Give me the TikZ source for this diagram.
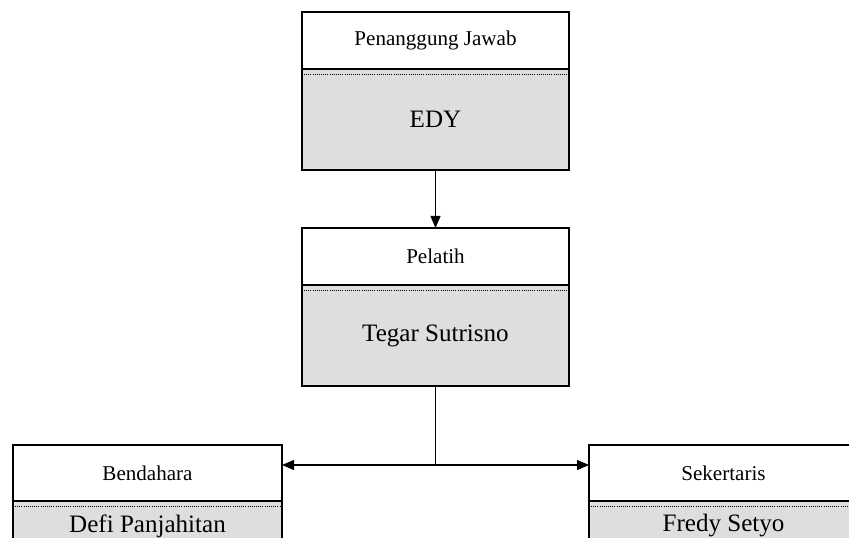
\documentclass[tikz,border=0pt]{standalone}
\usepackage{fontspec}
\setmainfont{Liberation Serif}
\usepackage{tikz}
\usetikzlibrary{arrows.meta}
\usetikzlibrary{positioning}
\tikzset{
    jabatan/.style = {draw=black, line width=0.8pt, fill=white, align=center, inner sep=0pt, outer sep=0pt, minimum width=200.25pt, minimum height=42.75pt, font=\fontsize{15.8}{17}\selectfont},
    nama/.style = {draw=black, line width=0.8pt, fill=black!13, align=center, inner sep=0pt, outer sep=0pt, minimum width=200.25pt, minimum height=75.75pt, font=\fontsize{18.8}{20}\selectfont},
    jabatan_kecil/.style = {jabatan, minimum width=201.75pt, minimum height=42pt},
    nama_kecil/.style = {nama, minimum width=201.75pt, minimum height=37.5pt},
    garis/.style = {line width=0.6pt, densely dotted}
}

\begin{document}
\begin{tikzpicture}[x=0.75pt, y=-0.75pt, >={Triangle[length=9pt,width=7.5pt]}]
    \useasboundingbox (0,0) rectangle (849,538);
    \clip (0,0) rectangle (849,538);
    % pengurus
    \node [jabatan] (pj) at (435.5,40.5) {Penanggung Jawab};
    \node [nama, below=0pt of pj] (edy) {EDY};
    \node [jabatan] (pelatih) at (435.5,256.5) {Pelatih};
    \node [nama, below=0pt of pelatih] (tegar) {Tegar Sutrisno};
    \node [jabatan_kecil] (bendahara) at (147.5,473) {Bendahara};
    \node [nama_kecil, below=0pt of bendahara] (defi) {Defi Panjahitan};
    \node [jabatan_kecil] (sekertaris) at (723.5,473) {Sekertaris};
    \node [nama_kecil, below=0pt of sekertaris] (fredy) {Fredy Setyo};
    \foreach \n in {edy,tegar,defi,fredy}
        \draw [garis] ([shift={(2,5)}]\n.north west) -- ([shift={(-2,5)}]\n.north east);
    % garis
    \coordinate (cabang) at (435.5,465);
    \draw [->, line width=0.8pt] (edy) -- (pelatih);
    \draw [line width=0.8pt] (tegar) -- (cabang);
    \draw [->, line width=0.8pt] (cabang) -- (bendahara.east |- cabang);
    \draw [->, line width=0.8pt] (cabang) -- (sekertaris.west |- cabang);
\end{tikzpicture}
\end{document}
